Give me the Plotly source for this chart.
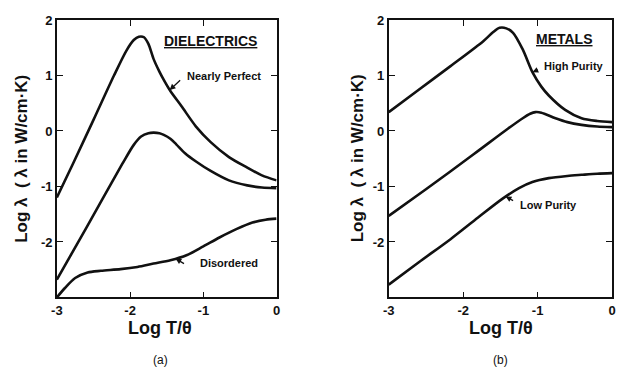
import plotly.graph_objects as go

# ---------------- data ----------------
# Panel (a) DIELECTRICS
diel_x_perfect = [-3.0, -2.78, -2.5, -2.22, -2.05, -1.95, -1.88, -1.81, -1.75, -1.68, -1.6, -1.54, -1.45, -1.3, -1.1, -0.9, -0.65, -0.4, -0.2, 0.0]
diel_y_perfect = [-1.2, -0.59, 0.2, 1.0, 1.45, 1.64, 1.70, 1.69, 1.57, 1.3, 1.07, 0.92, 0.72, 0.45, 0.08, -0.2, -0.47, -0.66, -0.80, -0.89]

diel_x_mid = [-3.0, -2.6, -2.105, -1.95, -1.85, -1.75, -1.68, -1.6, -1.54, -1.45, -1.37, -1.25, -1.1, -0.9, -0.65, -0.4, -0.2, 0.0]
diel_y_mid = [-2.68, -1.75, -0.59, -0.25, -0.1, -0.04, -0.03, -0.04, -0.07, -0.14, -0.24, -0.4, -0.55, -0.72, -0.89, -0.98, -1.02, -1.03]

diel_x_dis = [-3.0, -2.89, -2.75, -2.58, -2.4, -2.13, -1.9, -1.68, -1.45, -1.23, -1.0, -0.78, -0.55, -0.33, -0.15, 0.0]
diel_y_dis = [-3.0, -2.83, -2.65, -2.55, -2.52, -2.49, -2.45, -2.39, -2.33, -2.24, -2.08, -1.92, -1.77, -1.65, -1.6, -1.58]

# Panel (b) METALS
met_x_high = [-3.0, -2.61, -2.17, -1.73, -1.6, -1.51, -1.42, -1.33, -1.2, -1.07, -0.95, -0.85, -0.63, -0.41, -0.2, 0.0]
met_y_high = [0.34, 0.73, 1.17, 1.62, 1.78, 1.86, 1.85, 1.77, 1.47, 1.06, 0.8, 0.64, 0.38, 0.23, 0.18, 0.16]

met_x_mid = [-3.0, -2.5, -1.86, -1.4, -1.2, -1.1, -1.03, -0.95, -0.76, -0.6, -0.41, -0.2, 0.0]
met_y_mid = [-1.53, -1.05, -0.42, 0.04, 0.23, 0.31, 0.34, 0.33, 0.23, 0.16, 0.11, 0.08, 0.07]

met_x_low = [-3.0, -2.6, -2.17, -1.8, -1.47, -1.25, -1.07, -0.85, -0.6, -0.41, -0.2, 0.0]
met_y_low = [-2.77, -2.37, -1.95, -1.56, -1.22, -1.03, -0.92, -0.85, -0.81, -0.79, -0.77, -0.76]

x_tickvals = [-3, -2, -1, 0]
x_ticktext = ["-3", "-2", "-1", "0"]
y_tickvals = [-2, -1, 0, 1, 2]
y_ticktext = ["-2", "-1", "0", "1", "2"]

# ---------------- figure ----------------
W, H = 620, 371
INK = "#111111"
FONT = "Liberation Sans, Arial, sans-serif"

fig = go.Figure()

line_style = dict(color=INK, width=2.6, shape="spline", smoothing=0.8)

for xs, ys in [(diel_x_perfect, diel_y_perfect), (diel_x_mid, diel_y_mid), (diel_x_dis, diel_y_dis)]:
    fig.add_trace(go.Scatter(x=xs, y=ys, mode="lines", line=line_style,
                             xaxis="x", yaxis="y", showlegend=False, hoverinfo="skip"))
for xs, ys in [(met_x_high, met_y_high), (met_x_mid, met_y_mid), (met_x_low, met_y_low)]:
    fig.add_trace(go.Scatter(x=xs, y=ys, mode="lines", line=line_style,
                             xaxis="x2", yaxis="y2", showlegend=False, hoverinfo="skip"))

def px_x(p):
    return p / W

def px_y(p):
    return 1 - p / H

ax_common = dict(
    showgrid=False, zeroline=False, showline=True, linecolor=INK, linewidth=1.6,
    mirror="ticks", ticks="inside", ticklen=6, tickwidth=1.4, tickcolor=INK,
    tickfont=dict(family=FONT, size=13, color=INK),
)

bx = ["<b>%s</b>" % t for t in x_ticktext]
by = ["<b>%s</b>" % t for t in y_ticktext]

ydom = [px_y(296), px_y(13.3)]
fig.update_layout(
    width=W, height=H,
    margin=dict(l=0, r=0, t=0, b=0),
    paper_bgcolor="white", plot_bgcolor="white",
    xaxis=dict(domain=[px_x(51.7), px_x(275)], range=[-3, 0], anchor="y",
               tickmode="array", tickvals=x_tickvals, ticktext=bx, **ax_common),
    yaxis=dict(domain=ydom, range=[-3, 2], anchor="x",
               tickmode="array", tickvals=y_tickvals, ticktext=by, **ax_common),
    xaxis2=dict(domain=[px_x(389), px_x(616)], range=[-3, 0], anchor="y2",
                tickmode="array", tickvals=x_tickvals, ticktext=bx, **ax_common),
    yaxis2=dict(domain=ydom, range=[-3, 2], anchor="x2",
                tickmode="array", tickvals=y_tickvals, ticktext=by, **ax_common),
)

ann = []

def paper_text(text, x, y, size, angle=0, bold=True, anchor="center"):
    ann.append(dict(text=("<b>%s</b>" % text) if bold else text, xref="paper", yref="paper",
                    x=px_x(x), y=px_y(y), showarrow=False, textangle=angle,
                    xanchor=anchor, yanchor="middle",
                    font=dict(family=FONT, size=size, color=INK)))

# axis titles
ytitle = "Log λ  ( λ in W/cm·K)"
paper_text(ytitle, 15, 155, 17, angle=-90)
paper_text(ytitle, 357, 154, 17, angle=-90)
paper_text("Log T/θ", 157, 327, 18)
paper_text("Log T/θ", 503, 327, 18)
paper_text("(a)", 157, 360, 12, bold=False)
paper_text("(b)", 503, 360, 12, bold=False)

# panel titles (underlined)
paper_text("<u>DIELECTRICS</u>", 208, 35, 14)
paper_text("<u>METALS</u>", 568, 33, 14)

# curve labels
paper_text("Nearly Perfect", 182, 70, 11, anchor="left")
paper_text("Disordered", 195, 261, 11, anchor="left")
paper_text("High Purity", 545, 60, 11, anchor="left")
paper_text("Low Purity", 520, 202, 11, anchor="left")

def arrow(x, y, axp, ayp, xr, yr):
    ann.append(dict(text="", x=x, y=y, xref=xr, yref=yr, showarrow=True,
                    ax=axp, ay=ayp, arrowhead=2, arrowsize=0.9, arrowwidth=1.3,
                    arrowcolor=INK, standoff=0))

arrow(-1.46, 0.74, 12, -11, "x", "y")
arrow(-1.38, -2.30, 10, 6, "x", "y")
arrow(-1.07, 1.06, 7, -3, "x2", "y2")
arrow(-1.43, -1.18, 9, 5, "x2", "y2")

fig.update_layout(annotations=ann)

fig.write_html("out.html")
